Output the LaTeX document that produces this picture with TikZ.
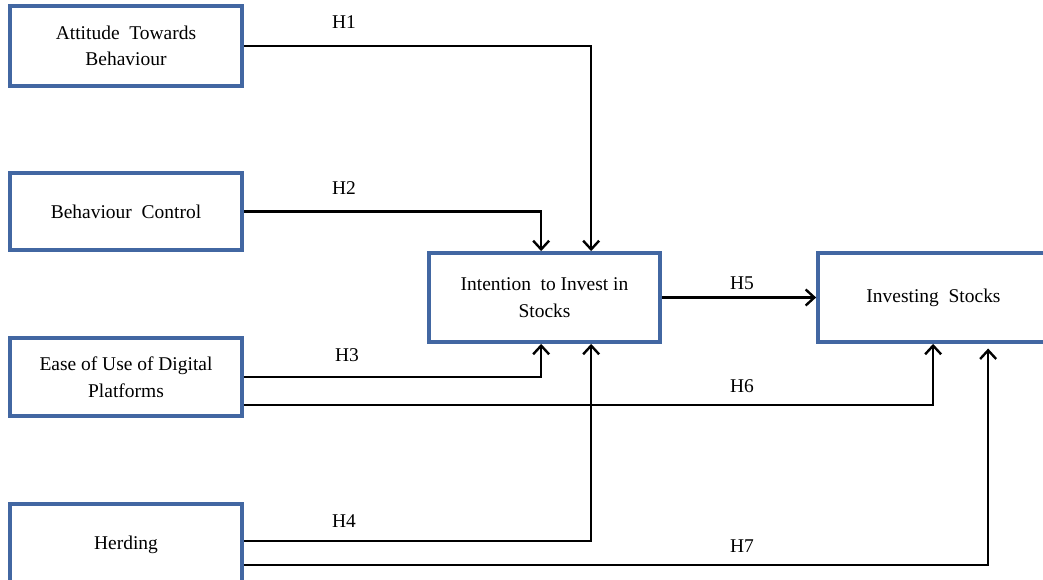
\documentclass[tikz,border=0pt]{standalone}
\usepackage{fontspec}
\setmainfont{Liberation Serif}
\usetikzlibrary{arrows.meta}
\definecolor{boxblue}{RGB}{66,103,162}
\begin{document}
\begin{tikzpicture}[x=0.75pt,y=-0.75pt,
  box/.style={draw=boxblue,line width=2.8pt,fill=white,align=center,
    font=\fontsize{14.6pt}{20pt}\selectfont,inner sep=2pt},
  arr/.style={line width=1.9pt,-{Straight Barb[length=6.5pt,width=12pt,line width=1.8pt]}},
  lab/.style={font=\fontsize{14.6pt}{17pt}\selectfont,inner sep=0pt}]
\useasboundingbox (0,0) rectangle (1043,580);
\node[box,minimum width=174pt,minimum height=60pt] (A) at (126,46) {Attitude\ \ Towards\\Behaviour};
\node[box,minimum width=174pt,minimum height=57.75pt] (B) at (126,211.5) {Behaviour\ \ Control};
\node[box,minimum width=174pt,minimum height=58.5pt] (C) at (126,377) {Ease of Use of Digital\\Platforms};
\node[box,minimum width=174pt,minimum height=60.75pt] (D) at (126,544.5) {Herding};
\node[box,minimum width=173.25pt,minimum height=66.75pt] (I) at (544.5,297.5) {Intention\ \ to Invest\ in\\Stocks};
\node[box,minimum width=173.25pt,minimum height=66.75pt] (S) at (933.5,297.5) {Investing\ \ Stocks};
% connectors
\draw[arr] (A.east) -| ([xshift=123pt]I.north west);
\draw[arr] (B.east) -| ([xshift=85.5pt]I.north west);
\draw[arr] (C.east) -| ([xshift=85.5pt]I.south west);
\draw[arr] ([yshift=-21pt]C.east) -| ([xshift=87.75pt]S.south west);
\draw[arr] ([yshift=2.6pt]D.east) -| ([xshift=123pt]I.south west);
\draw[arr,shorten >=3.5pt] ([yshift=-15.4pt]D.east) -| ([xshift=129pt]S.south west);
\draw[arr] (I.east) -- (S.west);
% labels
\node[lab] (h1) at (344,22) {H1};
\node[lab] (h2) at (344,188) {H2};
\node[lab] (h3) at (347,355) {H3};
\node[lab] (h4) at (344,521) {H4};
\node[lab] (h5) at (742,283) {H5};
\node[lab] (h6) at (742,386) {H6};
\node[lab] (h7) at (742,546) {H7};
\end{tikzpicture}
\end{document}
